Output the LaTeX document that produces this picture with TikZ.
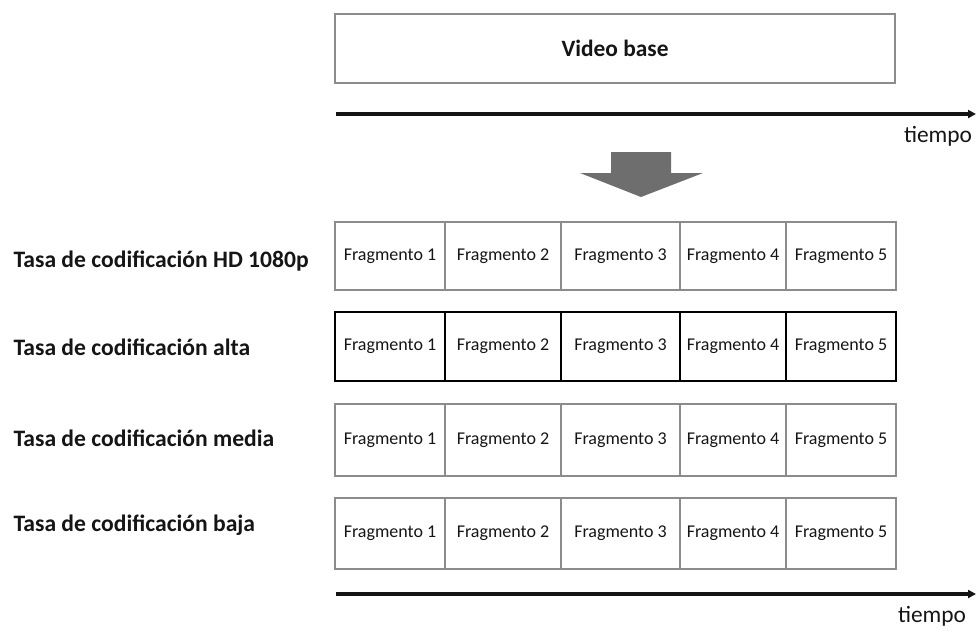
\documentclass[tikz,border=0pt]{standalone}
\usepackage{fontspec}
\setmainfont{Carlito}
\usetikzlibrary{arrows.meta}
\definecolor{mEdge}{HTML}{8C8C8C}
\definecolor{mArrow}{HTML}{6E6E6E}
\definecolor{mInk}{HTML}{151515}

\begin{document}
\begin{tikzpicture}[x=1pt, y=-1pt, >={Triangle[length=8pt, width=8pt]},
    cell/.style={draw, line width=1.8pt, inner sep=0pt, outer sep=0pt,
                 font=\fontsize{18}{20}\selectfont, text=mInk},
    rate/.style={anchor=west, font=\bfseries\fontsize{23.6}{26}\selectfont, text=mInk},
    axis/.style={->, line width=3.2pt, mInk},
    timelabel/.style={font=\fontsize{23.4}{26}\selectfont, text=mInk}]
  \useasboundingbox (0,0) rectangle (977,630);
  % source video and its time axis
  \node[cell, draw=mEdge, minimum width=560pt, minimum height=69pt,
        font=\bfseries\fontsize{23.4}{26}\selectfont] (base) at (615,48.5) {Video base};
  \coordinate (top0) at (336,114);
  \coordinate (top1) at (976,114);
  \draw[axis] (top0) -- (top1);
  \node[timelabel] (toptime) at (938,136) {tiempo};
  % block arrow down
  \fill[mArrow] (611,152) -- (671,152) -- (671,173) -- (703,173) -- (641,197)
                -- (580,173) -- (611,173) -- cycle;
  % one row of fragments per encoding rate
  \foreach \r/\ya/\yb/\col/\ly/\lab in {hd/222/290/mEdge/261/HD 1080p,
      alta/312/381/black/347/alta, media/404/476/mEdge/438/media,
      baja/498/569/mEdge/525/baja}
  {
    \node[rate] (\r) at (10,\ly) {Tasa de codificación \lab};
    \foreach \i/\xa/\xb in {1/335/445, 2/445/561, 3/561/680, 4/680/786, 5/786/896}
      \node[cell, draw=\col, minimum width={\xb-\xa}, minimum height={\yb-\ya}]
        (\r\i) at ({(\xa+\xb)/2},{(\ya+\yb)/2}) {Fragmento \i};
  }
  % shared time axis
  \coordinate (bot0) at (336,594);
  \coordinate (bot1) at (976,594);
  \draw[axis] (bot0) -- (bot1);
  \node[timelabel] (bottime) at (932,616) {tiempo};
\end{tikzpicture}
\end{document}
